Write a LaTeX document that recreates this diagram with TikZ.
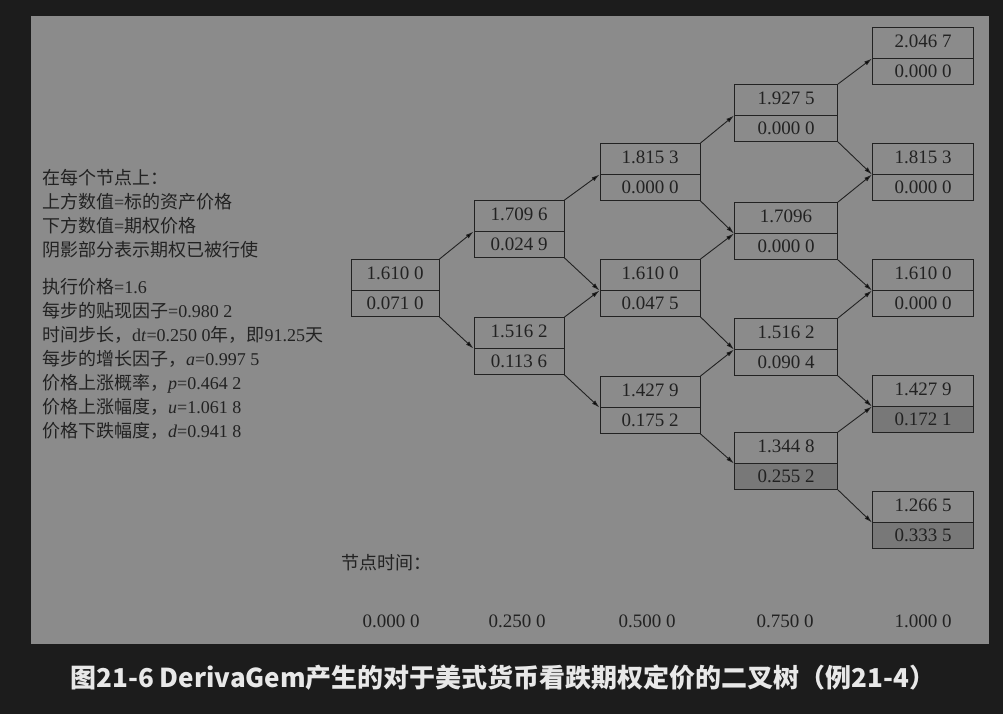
\documentclass[tikz,border=0pt]{standalone}
\usepackage{fontspec}
\setmainfont{Liberation Serif}
\newfontfamily\cjk{Noto Sans CJK SC}
\usetikzlibrary{arrows.meta,shapes.multipart}
\definecolor{darkbg}{HTML}{1C1C1C}
\definecolor{panel}{HTML}{8B8B8B}
\definecolor{shade}{HTML}{787878}
\definecolor{ink}{HTML}{222222}
\definecolor{capclr}{HTML}{E8E8E8}
\newcommand{\zh}[1]{{\cjk #1}}

\begin{document}
\begin{tikzpicture}[
  x=1pt, y=-1pt,
  >={Latex[length=8pt,width=4.5pt]},
  tb/.style={rectangle split, rectangle split parts=2, draw=ink, line width=1pt,
    font=\fontsize{19}{19}\selectfont, text=ink, text height=13.5pt,
    text depth=4.5pt, inner ysep=6pt, inner xsep=2pt},
  tbex/.style={tb, rectangle split part fill={panel,shade}},
  tbline/.style={->, draw=ink, line width=0.9pt},
  note/.style={align=left, anchor=north west, text=ink, inner sep=0pt,
    font=\fontsize{18}{24}\selectfont},
  tm/.style={text=ink, font=\fontsize{19}{19}\selectfont}
]
  \useasboundingbox[fill=darkbg] (0,0) rectangle (1003,714);
  \fill[panel] (31,16) rectangle (989,644);

  % notes on the left
  \node[note] (key) at (42,169) {\zh{在每个节点上：}\\
    \zh{上方数值}={\zh{标的资产价格}}\\
    \zh{下方数值}=\zh{期权价格}\\
    \zh{阴影部分表示期权已被行使}};
  \node[note] (par) at (42,278) {\zh{执行价格}=1.6\\
    \zh{每步的贴现因子}=0.980 2\\
    \zh{时间步长，}d\textit{t}=0.250 0\zh{年，即}91.25\zh{天}\\
    \zh{每步的增长因子，}\textit{a}=0.997 5\\
    \zh{价格上涨概率，}\textit{p}=0.464 2\\
    \zh{价格上涨幅度，}\textit{u}=1.061 8\\
    \zh{价格下跌幅度，}\textit{d}=0.941 8};

  % tree
  \node[tb, minimum width=88pt] (n0) at (395,288) {1.610 0\nodepart{two}0.071 0};

  \node[tb, minimum width=90pt] (n1u) at (519,229) {1.709 6\nodepart{two}0.024 9};
  \node[tb, minimum width=90pt] (n1d) at (519,346) {1.516 2\nodepart{two}0.113 6};

  \node[tb, minimum width=100pt] (n2uu) at (650,172) {1.815 3\nodepart{two}0.000 0};
  \node[tb, minimum width=100pt] (n2ud) at (650,288) {1.610 0\nodepart{two}0.047 5};
  \node[tb, minimum width=100pt] (n2dd) at (650,405) {1.427 9\nodepart{two}0.175 2};

  \node[tb, minimum width=103pt] (n3uuu) at (786,113) {1.927 5\nodepart{two}0.000 0};
  \node[tb, minimum width=103pt] (n3uud) at (786,231) {1.7096\nodepart{two}0.000 0};
  \node[tb, minimum width=103pt] (n3udd) at (786,347) {1.516 2\nodepart{two}0.090 4};
  \node[tbex, minimum width=103pt] (n3ddd) at (786,461) {1.344 8\nodepart{two}0.255 2};

  \node[tb, minimum width=101pt] (n4a) at (923,56) {2.046 7\nodepart{two}0.000 0};
  \node[tb, minimum width=101pt] (n4b) at (923,172) {1.815 3\nodepart{two}0.000 0};
  \node[tb, minimum width=101pt] (n4c) at (923,288) {1.610 0\nodepart{two}0.000 0};
  \node[tbex, minimum width=101pt] (n4d) at (923,404) {1.427 9\nodepart{two}0.172 1};
  \node[tbex, minimum width=101pt] (n4e) at (923,520) {1.266 5\nodepart{two}0.333 5};

  \draw[tbline] (n0.north east) -- (n1u.text split west);
  \draw[tbline] (n0.south east) -- (n1d.text split west);

  \draw[tbline] (n1u.north east) -- (n2uu.text split west);
  \draw[tbline] (n1u.south east) -- (n2ud.text split west);
  \draw[tbline] (n1d.north east) -- (n2ud.text split west);
  \draw[tbline] (n1d.south east) -- (n2dd.text split west);

  \draw[tbline] (n2uu.north east) -- (n3uuu.text split west);
  \draw[tbline] (n2uu.south east) -- (n3uud.text split west);
  \draw[tbline] (n2ud.north east) -- (n3uud.text split west);
  \draw[tbline] (n2ud.south east) -- (n3udd.text split west);
  \draw[tbline] (n2dd.north east) -- (n3udd.text split west);
  \draw[tbline] (n2dd.south east) -- (n3ddd.text split west);

  \draw[tbline] (n3uuu.north east) -- (n4a.text split west);
  \draw[tbline] (n3uuu.south east) -- (n4b.text split west);
  \draw[tbline] (n3uud.north east) -- (n4b.text split west);
  \draw[tbline] (n3uud.south east) -- (n4c.text split west);
  \draw[tbline] (n3udd.north east) -- (n4c.text split west);
  \draw[tbline] (n3udd.south east) -- (n4d.text split west);
  \draw[tbline] (n3ddd.north east) -- (n4d.text split west);
  \draw[tbline] (n3ddd.south east) -- (n4e.text split west);

  % node times
  \node[text=ink, anchor=west, inner sep=0pt, font=\fontsize{18}{18}\selectfont\cjk]
    (tlabel) at (341,563) {节点时间：};
  \node[tm] (t0) at (391,621) {0.000 0};
  \node[tm] (t1) at (517,621) {0.250 0};
  \node[tm] (t2) at (647,621) {0.500 0};
  \node[tm] (t3) at (785,621) {0.750 0};
  \node[tm] (t4) at (923,621) {1.000 0};

  % caption
  \node[text=capclr, font=\fontsize{26}{26}\selectfont\cjk\bfseries] (cap) at (503,678)
    {图21-6 DerivaGem产生的对于美式货币看跌期权定价的二叉树（例21-4）};
\end{tikzpicture}
\end{document}
